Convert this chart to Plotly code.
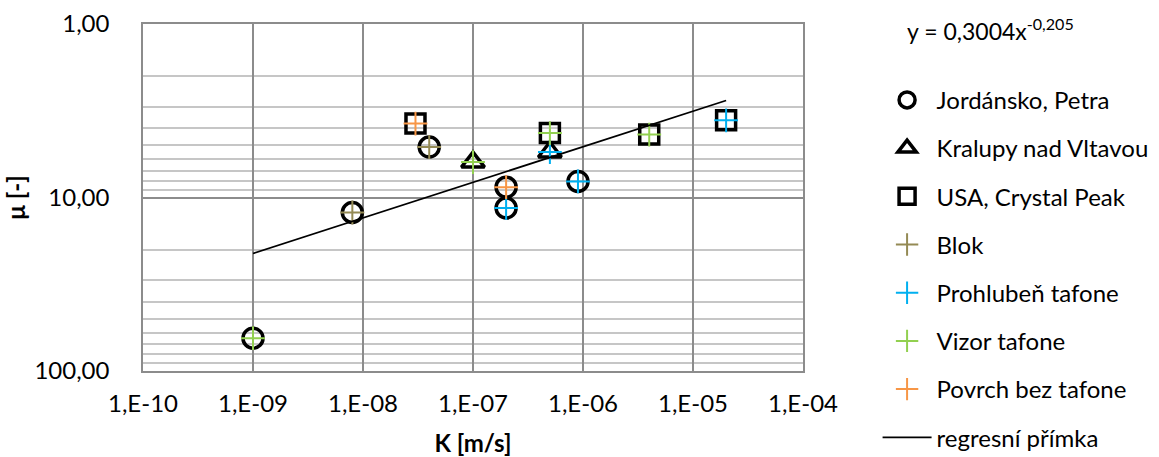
import numpy as np
import plotly.graph_objects as go

# Measured permeability K [m/s] and coefficient mu [-] per locality
jordansko_k = [1e-9, 8e-9, 4e-8, 2e-7, 2e-7, 9e-7]
jordansko_mu = [64.7, 12.2, 5.12, 8.72, 11.5, 8.08]

kralupy_k = [1e-7, 5e-7]
kralupy_mu = [6.25, 5.47]

usa_k = [3e-8, 5e-7, 4e-6, 2e-5]
usa_mu = [3.75, 4.25, 4.34, 3.59]

# Same points split by sampling position
blok_k = [8e-9, 4e-8]
blok_mu = [12.2, 5.12]

prohluben_k = [2e-7, 9e-7, 5e-7, 2e-5]
prohluben_mu = [11.5, 8.08, 5.47, 3.59]

vizor_k = [1e-9, 1e-7, 5e-7, 4e-6]
vizor_mu = [64.7, 6.25, 4.25, 4.34]

povrch_k = [2e-7, 3e-8]
povrch_mu = [8.72, 3.75]

# Power-law regression y = a * x^b
reg_a = 0.3004
reg_b = -0.205
reg_k_range = [1e-9, 2e-5]

x_ticks = [1e-10, 1e-9, 1e-8, 1e-7, 1e-6, 1e-5, 1e-4]
x_ticktext = ["1,E-10", "1,E-09", "1,E-08", "1,E-07", "1,E-06", "1,E-05", "1,E-04"]
y_ticks = [1, 10, 100]
y_ticktext = ["1,00", "10,00", "100,00"]

FONT = "Lato, 'Liberation Sans', sans-serif"
FS = 24
MAJOR = "#8c8c8c"
MINOR = "#c6c6c6"

fig = go.Figure()

def shape_trace(name, xs, ys, symbol, size):
    return go.Scatter(
        x=xs, y=ys, mode="markers", name=name, legendgroup=name,
        marker=dict(symbol=symbol, size=size, color="black",
                    line=dict(color="black", width=3.5)),
    )

def cross_trace(name, xs, ys, color):
    return go.Scatter(
        x=xs, y=ys, mode="markers", name=name, legendgroup=name,
        marker=dict(symbol="cross-thin-open", size=17, color=color,
                    line=dict(color=color, width=2)),
    )

fig.add_trace(shape_trace("Jordánsko, Petra", jordansko_k, jordansko_mu, "circle-open", 20))
fig.add_trace(shape_trace("Kralupy nad Vltavou", kralupy_k, kralupy_mu, "triangle-up-open", 20))
fig.add_trace(shape_trace("USA, Crystal Peak", usa_k, usa_mu, "square-open", 19))
fig.add_trace(cross_trace("Blok", blok_k, blok_mu, "#948A54"))
fig.add_trace(cross_trace("Prohlubeň tafone", prohluben_k, prohluben_mu, "#00B0F0"))
fig.add_trace(cross_trace("Vizor tafone", vizor_k, vizor_mu, "#92D050"))
fig.add_trace(cross_trace("Povrch bez tafone", povrch_k, povrch_mu, "#F79646"))

reg_x = np.logspace(np.log10(reg_k_range[0]), np.log10(reg_k_range[1]), 50)
reg_y = reg_a * reg_x ** reg_b
fig.add_trace(go.Scatter(
    x=reg_x, y=reg_y, mode="lines", name="regresní přímka",
    legendgroup="reg", line=dict(color="black", width=1.8),
))

minor_y = [v * d for d in (1, 10) for v in range(2, 10)]

fig.update_xaxes(
    type="log", range=[-10, -4], automargin=False,
    tickvals=x_ticks, ticktext=x_ticktext,
    showgrid=True, gridcolor=MAJOR, gridwidth=1.5,
    showline=True, linecolor=MAJOR, linewidth=1.5, mirror=True,
    ticks="", zeroline=False, ticklabelstandoff=10,
    tickfont=dict(family=FONT, size=FS, color="black"),
    title=dict(text="<b>K [m/s]</b>", font=dict(family=FONT, size=FS, color="black"), standoff=23),
)
fig.update_yaxes(
    type="log", range=[2, 0], automargin=False,
    tickvals=y_ticks, ticktext=y_ticktext,
    showgrid=True, gridcolor=MAJOR, gridwidth=1.5,
    minor=dict(tickvals=minor_y, showgrid=True, gridcolor=MINOR, gridwidth=1.5, ticks=""),
    showline=True, linecolor=MAJOR, linewidth=1.5, mirror=True,
    ticks="", zeroline=False, ticklabelstandoff=27,
    tickfont=dict(family=FONT, size=FS, color="black"),
    title=dict(text="<b>μ [-]</b>", font=dict(family=FONT, size=FS, color="black"), standoff=2),
)

fig.add_annotation(
    xref="paper", yref="paper", x=1.154, y=0.9835, xanchor="left", yanchor="middle",
    text="y = 0,3004x<sup>-0,205</sup>", showarrow=False,
    font=dict(family=FONT, size=23, color="black"),
)

fig.update_layout(
    width=1159, height=457,
    margin=dict(l=143, r=356, t=24, b=86, autoexpand=False),
    plot_bgcolor="white", paper_bgcolor="white",
    font=dict(family=FONT, size=FS, color="black"),
    legend=dict(
        x=1.113, y=0.845, xanchor="left", yanchor="top",
        tracegroupgap=14, itemsizing="trace", itemwidth=49,
        maxheight=440,
        font=dict(family=FONT, size=FS, color="black"),
        bgcolor="rgba(0,0,0,0)",
    ),
    showlegend=True,
)

fig.write_html("out.html")
